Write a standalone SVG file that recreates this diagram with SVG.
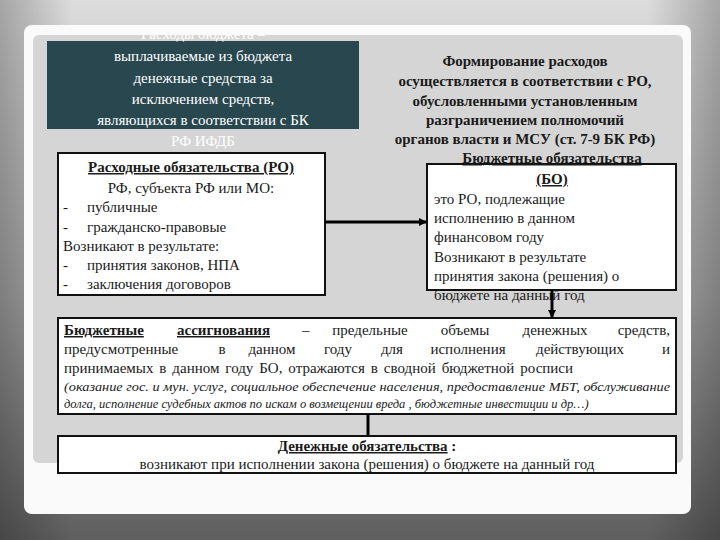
<svg xmlns="http://www.w3.org/2000/svg" width="720" height="540" viewBox="0 0 720 540" font-family="'Liberation Serif', 'Times New Roman', serif">
<defs>
<linearGradient id="bg" x1="0" y1="0" x2="0" y2="1"><stop offset="0" stop-color="#dcdcdc"/><stop offset="0.55" stop-color="#a8a8a8"/><stop offset="1" stop-color="#5e5e5e"/></linearGradient>
<linearGradient id="side" x1="0" y1="0" x2="1" y2="0"><stop offset="0" stop-color="#000" stop-opacity="0.25"/><stop offset="0.1" stop-color="#000" stop-opacity="0"/><stop offset="0.9" stop-color="#000" stop-opacity="0"/><stop offset="1" stop-color="#000" stop-opacity="0.25"/></linearGradient>
<marker id="ar" markerWidth="8" markerHeight="8" refX="7" refY="4" orient="auto" markerUnits="userSpaceOnUse"><path d="M0,0 L8,4 L0,8 Z" fill="#000"/></marker>
<clipPath id="cp"><rect x="33" y="35" width="650" height="430"/></clipPath>
</defs>
<style>
text{font-family:"Liberation Serif","Times New Roman",serif;font-size:15px;fill:#1a1a1a}
.w{fill:#fff}
.b{font-weight:bold}
.u{text-decoration:underline}
.box{fill:#fff;stroke:#111;stroke-width:2}
.ln{stroke:#000;stroke-width:3;fill:none}
.c{text-anchor:middle}
.e{text-anchor:end}
.i{font-style:italic;font-size:12.5px}
</style>
<rect width="720" height="540" fill="url(#bg)"/>
<rect width="720" height="540" fill="url(#side)"/>
<rect x="24" y="25" width="667" height="489" rx="8" fill="#fafafa"/>
<rect x="33" y="35" width="650" height="428" rx="6" fill="#d5d5d5"/>
<g id="expense" clip-path="url(#cp)">
<rect x="47" y="41" width="312" height="88" fill="#28474f"/>
<text class="w c" x="203" y="39">Расходы бюджета –</text>
<text class="w c" x="203" y="61">выплачиваемые из бюджета</text>
<text class="w c" x="203" y="83">денежные средства за</text>
<text class="w c" x="203" y="104">исключением средств,</text>
<text class="w c" x="203" y="125">являющихся в соответствии с БК</text>
<text class="w c" x="203" y="146">РФ ИФДБ</text>
</g>
<g id="formation">
<text class="b c" x="525" y="66" font-size="14">Формирование расходов</text>
<text class="b c" x="525" y="86" font-size="14">осуществляется в соответствии с РО,</text>
<text class="b c" x="525" y="106" font-size="14">обусловленными установленным</text>
<text class="b c" x="525" y="125" font-size="14">разграничением полномочий</text>
<text class="b c" x="525" y="144" font-size="14">органов власти и МСУ (ст. 7-9 БК РФ)</text>
</g>
<g id="ro">
<rect class="box" x="58" y="153" width="267" height="142"/>
<text class="b u c" x="191" y="172">Расходные обязательства (РО)</text>
<text class="c" x="191" y="193">РФ, субъекта РФ или МО:</text>
<text x="63" y="212">-</text><text x="87" y="212">публичные</text>
<text x="63" y="232">-</text><text x="87" y="232">гражданско-правовые</text>
<text x="63" y="251">Возникают в результате:</text>
<text x="63" y="270">-</text><text x="87" y="270">принятия законов, НПА</text>
<text x="63" y="289">-</text><text x="87" y="289">заключения договоров</text>
</g>
<g id="bo">
<rect class="box" x="427" y="164" width="249" height="126"/>
<text class="b u c" x="552" y="163">Бюджетные обязательства</text>
<text class="b u c" x="552" y="184">(БО)</text>
<text x="434" y="204">это РО, подлежащие</text>
<text x="434" y="223">исполнению в данном</text>
<text x="434" y="242">финансовом году</text>
<text x="434" y="262">Возникают в результате</text>
<text x="434" y="281">принятия закона (решения) о</text>
<text x="434" y="300">бюджете на данный год</text>
</g>
<g id="ba">
<rect class="box" x="58" y="318" width="618" height="96"/>
<text class="b u" x="64" y="335">Бюджетные</text>
<text class="b u" x="177" y="335">ассигнования</text>
<text x="302" y="335">–</text>
<text class="c" x="370" y="335">предельные</text>
<text class="c" x="465" y="335">объемы</text>
<text class="c" x="555" y="335">денежных</text>
<text class="e" x="670" y="335">средств,</text>
<text x="64" y="354">предусмотренные</text>
<text class="c" x="222" y="354">в</text>
<text class="c" x="272" y="354">данном</text>
<text class="c" x="338" y="354">году</text>
<text class="c" x="392" y="354">для</text>
<text class="c" x="468" y="354">исполнения</text>
<text class="c" x="580" y="354">действующих</text>
<text class="e" x="670" y="354">и</text>
<text x="64" y="373" word-spacing="2.2">принимаемых в данном году БО, отражаются в сводной бюджетной росписи</text>
<text class="i" x="64" y="391" textLength="606" lengthAdjust="spacingAndGlyphs">(оказание гос. и мун. услуг, социальное обеспечение населения, предоставление МБТ, обслуживание</text>
<text class="i" x="64" y="408">долга, исполнение судебных актов по искам о возмещении вреда , бюджетные инвестиции и др…)</text>
</g>
<g id="money">
<rect class="box" x="58" y="436" width="618" height="37"/>
<text class="c" x="367" y="451"><tspan class="b u">Денежные обязательства</tspan><tspan class="b"> :</tspan></text>
<text class="c" x="367" y="469">возникают при исполнении закона (решения) о бюджете на данный год</text>
</g>
<g id="connectors">
<line class="ln" x1="325" y1="222" x2="426" y2="222" marker-end="url(#ar)"/>
<line class="ln" x1="552" y1="290" x2="552" y2="317" marker-end="url(#ar)"/>
<line class="ln" x1="368" y1="414" x2="368" y2="435"/>
</g>
</svg>
